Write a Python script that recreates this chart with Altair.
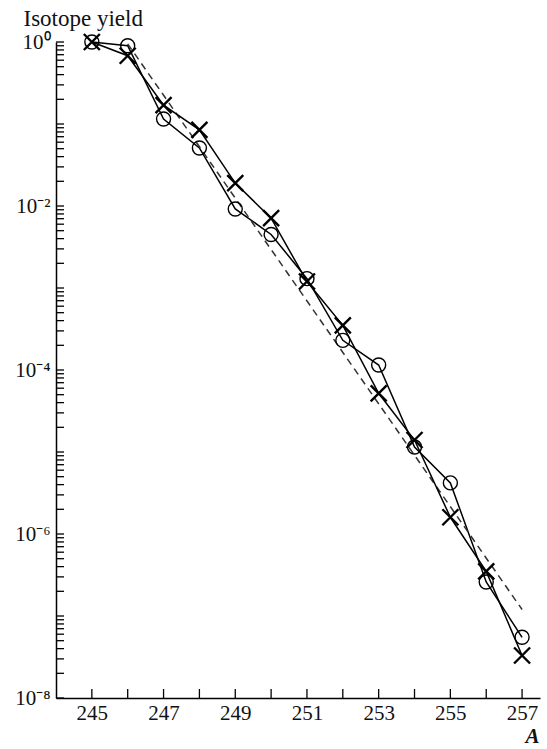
import altair as alt
import pandas as pd

# Mass number A
mass = [245, 246, 247, 248, 249, 250, 251, 252, 253, 254, 255, 256, 257]
# Series with open circles
yield_circles = [1.0, 0.9, 0.115, 0.051, 0.0092, 0.0045, 0.0013, 2.3e-4, 1.15e-4,
                 1.15e-5, 4.2e-6, 2.6e-7, 5.5e-8]
# Series with crosses
yield_crosses = [1.0, 0.68, 0.17, 0.085, 0.019, 0.0071, 0.0012, 3.5e-4, 5.2e-5,
                 1.4e-5, 1.6e-6, 3.5e-7, 3.3e-8]
# Dashed trend line end points
trend_mass = [246, 257]
trend_yield = [0.95, 1.2e-7]

# Axis tick values
x_label_values = [245, 247, 249, 251, 253, 255, 257]
x_tick_values = list(range(245, 258))
y_label_values = [1, 1e-2, 1e-4, 1e-6, 1e-8]
y_tick_values = [m * 10.0 ** e for e in range(-8, 0) for m in range(1, 10)] + [1.0]

FONT = "Liberation Serif"

xscale = alt.Scale(domain=[244, 257.5], nice=False, zero=False)
yscale = alt.Scale(type="log", domain=[1e-8, 1], nice=False)

df_c = pd.DataFrame({"A": mass, "y": yield_circles})
df_x = pd.DataFrame({"A": mass, "y": yield_crosses})
df_t = pd.DataFrame({"A": trend_mass, "y": trend_yield})
df_xt = pd.DataFrame({"A": x_tick_values})
df_yt = pd.DataFrame({"y": y_tick_values})

x_axis = alt.Axis(
    values=x_label_values, format="d", ticks=False, tickSize=0, grid=False,
    domainColor="black", domainWidth=1.5, labelFont=FONT, labelFontSize=21,
    labelColor="#111", labelPadding=4,
    title="A", titleFont=FONT, titleFontSize=21, titleFontStyle="italic",
    titleFontWeight="bold", titleColor="#111", titleAlign="center",
    titleBaseline="alphabetic", titleX=476, titleY=44, titleAnchor="end",
)
y_axis = alt.Axis(
    values=y_label_values, ticks=False, tickSize=0, grid=False,
    domainColor="black", domainWidth=1.5, labelFont=FONT, labelFontSize=21,
    labelColor="#111", labelPadding=6,
    labelExpr=("datum.value > 0.5 ? '10⁰' : datum.value > 0.005 ? '10⁻²' : "
               "datum.value > 0.00005 ? '10⁻⁴' : datum.value > 0.0000005 ? '10⁻⁶' : '10⁻⁸'"),
    title="Isotope yield", titleFont=FONT, titleFontSize=23, titleFontWeight="normal",
    titleColor="#111", titleAngle=0, titleAlign="left", titleBaseline="alphabetic",
    titleX=-33, titleY=-17,
)

X = alt.X("A:Q", scale=xscale, axis=x_axis)
Y = alt.Y("y:Q", scale=yscale, axis=y_axis)

base_c = alt.Chart(df_c)
base_x = alt.Chart(df_x)

line_c = base_c.mark_line(color="black", strokeWidth=1.5).encode(x=X, y=Y)
pts_c = base_c.mark_point(shape="circle", filled=False, size=196, color="black",
                          strokeWidth=1.4, opacity=1).encode(x=X, y=Y)
line_x = base_x.mark_line(color="black", strokeWidth=1.5).encode(x=X, y=Y)
pts_x = base_x.mark_point(shape="M-1,-1L1,1M-1,1L1,-1", filled=False, size=256,
                          color="black", strokeWidth=2.4, opacity=1).encode(x=X, y=Y)
trend = alt.Chart(df_t).mark_line(color="#333", strokeWidth=1.5,
                                  strokeDash=[7, 5]).encode(x=X, y=Y)
xticks = alt.Chart(df_xt).mark_rule(color="black", strokeWidth=1.3).encode(
    x=X, y=alt.value(656), y2=alt.value(647),
)
yticks = alt.Chart(df_yt).mark_rule(color="black", strokeWidth=1.3).encode(
    y=Y, x=alt.value(0), x2=alt.value(8),
)

chart = alt.layer(line_c, trend, line_x, pts_c, pts_x, xticks, yticks).properties(
    width=484, height=656,
    autosize=alt.AutoSizeParams(type="none"),
    padding={"left": 56, "top": 42, "right": 7, "bottom": 51},
    background="white",
).configure_view(stroke=None)

chart.save("out.html", embed_options={"renderer": "svg", "actions": False})
